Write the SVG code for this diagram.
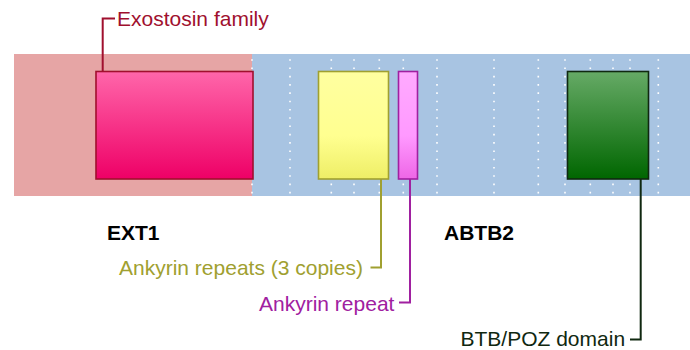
<svg xmlns="http://www.w3.org/2000/svg" width="690" height="350" viewBox="0 0 690 350">
<defs>
<linearGradient id="gExt" x1="0" y1="0" x2="0" y2="1"><stop offset="0" stop-color="#ff66aa"/><stop offset="1" stop-color="#ee0066"/></linearGradient>
<linearGradient id="gAnk3" x1="0" y1="0" x2="0" y2="1"><stop offset="0" stop-color="#ffffa0"/><stop offset="0.6" stop-color="#ffff90"/><stop offset="1" stop-color="#eeee66"/></linearGradient>
<linearGradient id="gAnk" x1="0" y1="0" x2="0" y2="1"><stop offset="0" stop-color="#ffaaff"/><stop offset="0.6" stop-color="#ff99ff"/><stop offset="1" stop-color="#ee66e6"/></linearGradient>
<linearGradient id="gBtb" x1="0" y1="0" x2="0" y2="1"><stop offset="0" stop-color="#66aa66"/><stop offset="1" stop-color="#006600"/></linearGradient>
<style>
.lbl{font-family:"Liberation Sans",Arial,sans-serif;font-size:21px}
.gene{font-family:"Liberation Sans",Arial,sans-serif;font-size:21px;font-weight:bold;fill:#000}
.dots line{stroke:#ffffff;stroke-width:1.6;stroke-dasharray:1.6 6.69}
.dom{stroke-width:1.6}
.conn{fill:none;stroke-width:2}
</style>
</defs>
<g id="background">
<rect x="14" y="54" width="238" height="142" fill="#e6a5a5"/>
<rect x="252" y="54" width="438" height="142" fill="#a8c4e2"/>
</g>
<g class="dots" id="grid">
<line x1="252" y1="59.2" x2="252" y2="196"/>
<line x1="290" y1="59.2" x2="290" y2="196"/>
<line x1="331.3" y1="59.2" x2="331.3" y2="196"/>
<line x1="354" y1="59.2" x2="354" y2="196"/>
<line x1="379.3" y1="59.2" x2="379.3" y2="196"/>
<line x1="403.3" y1="59.2" x2="403.3" y2="196"/>
<line x1="437" y1="59.2" x2="437" y2="196"/>
<line x1="494" y1="59.2" x2="494" y2="196"/>
<line x1="538.3" y1="59.2" x2="538.3" y2="196"/>
<line x1="565" y1="59.2" x2="565" y2="196"/>
<line x1="590.3" y1="59.2" x2="590.3" y2="196"/>
<line x1="613" y1="59.2" x2="613" y2="196"/>
<line x1="630" y1="59.2" x2="630" y2="196"/>
<line x1="658.3" y1="59.2" x2="658.3" y2="196"/>
</g>
<g id="connectors" class="conn">
<polyline points="102.7,71.5 102.7,18.5 115,18.5" stroke="#a0102e"/>
<polyline points="381,179 381,267.5 370.5,267.5" stroke="#a0a030"/>
<polyline points="410,179 410,302.5 399,302.5" stroke="#a020a0"/>
<polyline points="640.7,179 640.7,339.5 630,339.5" stroke="#102810"/>
</g>
<g id="ext-domain"><rect class="dom" x="96" y="71.5" width="157" height="107.5" fill="url(#gExt)" stroke="#a0102e"/></g>
<g id="ank3-domain"><rect class="dom" x="318.5" y="71.5" width="70" height="107.5" fill="url(#gAnk3)" stroke="#a0a030"/></g>
<g id="ank-domain"><rect class="dom" x="398.5" y="71.5" width="19" height="107.5" fill="url(#gAnk)" stroke="#a020a0"/></g>
<g id="btb-domain"><rect class="dom" x="567.5" y="71.5" width="81" height="107.5" fill="url(#gBtb)" stroke="#102810"/></g>
<g id="labels">
<text class="lbl" x="117" y="26" fill="#a0102e">Exostosin family</text>
<text class="gene" x="107" y="240">EXT1</text>
<text class="gene" x="444" y="240">ABTB2</text>
<text class="lbl" x="119" y="275.3" fill="#a0a030">Ankyrin repeats (3 copies)</text>
<text class="lbl" x="259" y="310.7" fill="#a020a0">Ankyrin repeat</text>
<text class="lbl" x="460.5" y="345.7" fill="#102810">BTB/POZ domain</text>
</g>
</svg>
